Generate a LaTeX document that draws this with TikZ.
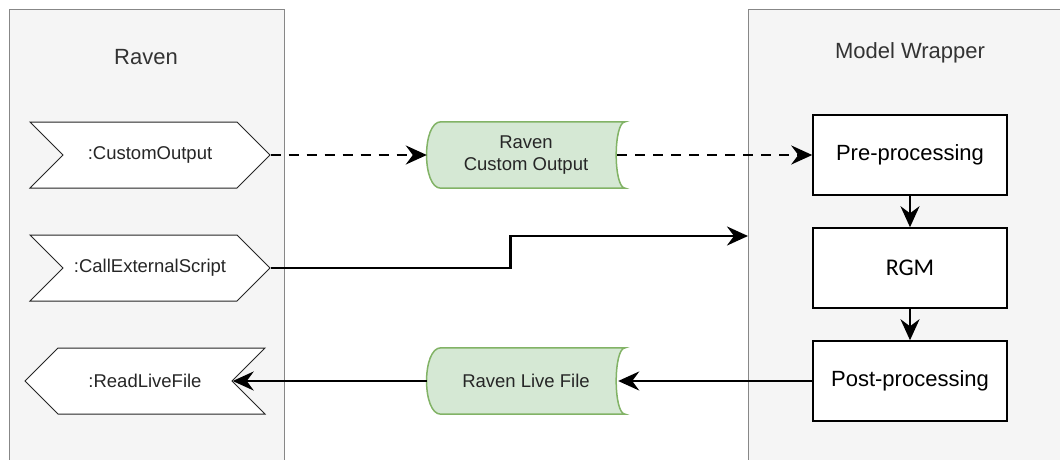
\documentclass[tikz,border=0pt]{standalone}
\usepackage{fontspec}
\setmainfont{Liberation Sans}
\newfontfamily\rgmfont{Carlito}
\usetikzlibrary{shapes.symbols,arrows.meta,positioning,calc,backgrounds}
\definecolor{lanefill}{RGB}{245,245,245}
\definecolor{laneline}{RGB}{135,135,135}
\definecolor{storefill}{RGB}{213,232,212}
\definecolor{storeline}{RGB}{130,179,102}
\definecolor{titlegray}{RGB}{51,51,51}

% stored data shape drawn round a named node
\newcommand{\drawstore}[1]{%
	\draw[storeline, fill=storefill, line width=1.5pt]
		($(#1.north west)+(14,0)$) -- (#1.north east)
		.. controls ($(#1.north east)+(-12,0)$) and ($(#1.south east)+(-12,0)$) .. (#1.south east)
		-- ($(#1.south west)+(14,0)$)
		.. controls ($(#1.south west)+(-5,0)$) and ($(#1.north west)+(-5,0)$) .. ($(#1.north west)+(14,0)$)
		-- cycle;}

\begin{document}
\begin{tikzpicture}[x=1pt, y=-1pt,
		% Node styles
		lane/.style={draw=laneline, fill=lanefill, line width=1pt, anchor=north west, inner sep=0pt},
		lanetitle/.style={text=titlegray, font=\fontsize{22}{26}\selectfont},
		event/.style={draw=black!85, fill=white, signal, signal pointer angle=90,
				minimum width=240pt, minimum height=66pt, inner sep=0pt, line width=1pt,
				font=\fontsize{18.5}{22}\selectfont, text=black!85},
		store/.style={minimum width=198pt, minimum height=66pt, inner sep=0pt, align=center,
				font=\fontsize{18.5}{22}\selectfont, text=black!85},
		stepbox/.style={draw=black, fill=white, line width=1.5pt, minimum width=194pt,
				minimum height=80pt, font=\fontsize{22}{26}\selectfont},
		flow/.style={-{Stealth[length=21pt,width=19pt,inset=7pt]}, line width=2.6pt},
		dflow/.style={flow, dash pattern=on 10pt off 8pt}
	]

	\useasboundingbox (0,0) rectangle (1060,459);

	% Swimlanes
	\node[lane, minimum width=275pt, minimum height=470pt] (raven) at (9,9) {};
	\node[lane, minimum width=330pt, minimum height=470pt] (wrapper) at (748,9) {};
	\node[lanetitle] (raventitle) at (146,57) {Raven};
	\node[lanetitle] (wrappertitle) at (910,53) {Model Wrapper};

	% Raven events
	\node[event, signal from=west, signal to=east] (custout) at (150,155) {:CustomOutput};
	\node[event, signal from=west, signal to=east] (callext) at (150,268) {:CallExternalScript};
	\node[event, signal from=east, signal to=west] (readlive) at (145,381) {:ReadLiveFile};

	% Data stores
	\node[store] (rcustom) at (526,155) {Raven\\Custom Output};
	\node[store] (rlive) at (526,381) {Raven Live File};

	% Model wrapper steps
	\node[stepbox] (pre) at (910,155) {Pre-processing};
	\node[stepbox, font=\rgmfont\fontsize{24}{28}\selectfont] (rgm) at (910,268) {RGM};
	\node[stepbox] (post) at (910,381) {Post-processing};

	\coordinate (wrapperin) at (748,236);

	% Connections
	\draw[dflow] (custout.east) -- (rcustom.west);
	\draw[dflow, shorten <=-8pt] (rcustom.east) -- (pre.west);
	\draw[flow] (callext.east) -- ++(240,0) |- (wrapperin);
	\draw[flow] (pre) -- (rgm);
	\draw[flow] (rgm) -- (post);
	\draw[flow, shorten >=-7pt] (post.west) -- (rlive.east);
	\draw[flow] (rlive.west) -- (readlive.east);

	\begin{pgfonlayer}{background}
		\drawstore{rcustom}
		\drawstore{rlive}
	\end{pgfonlayer}

\end{tikzpicture}
\end{document}
